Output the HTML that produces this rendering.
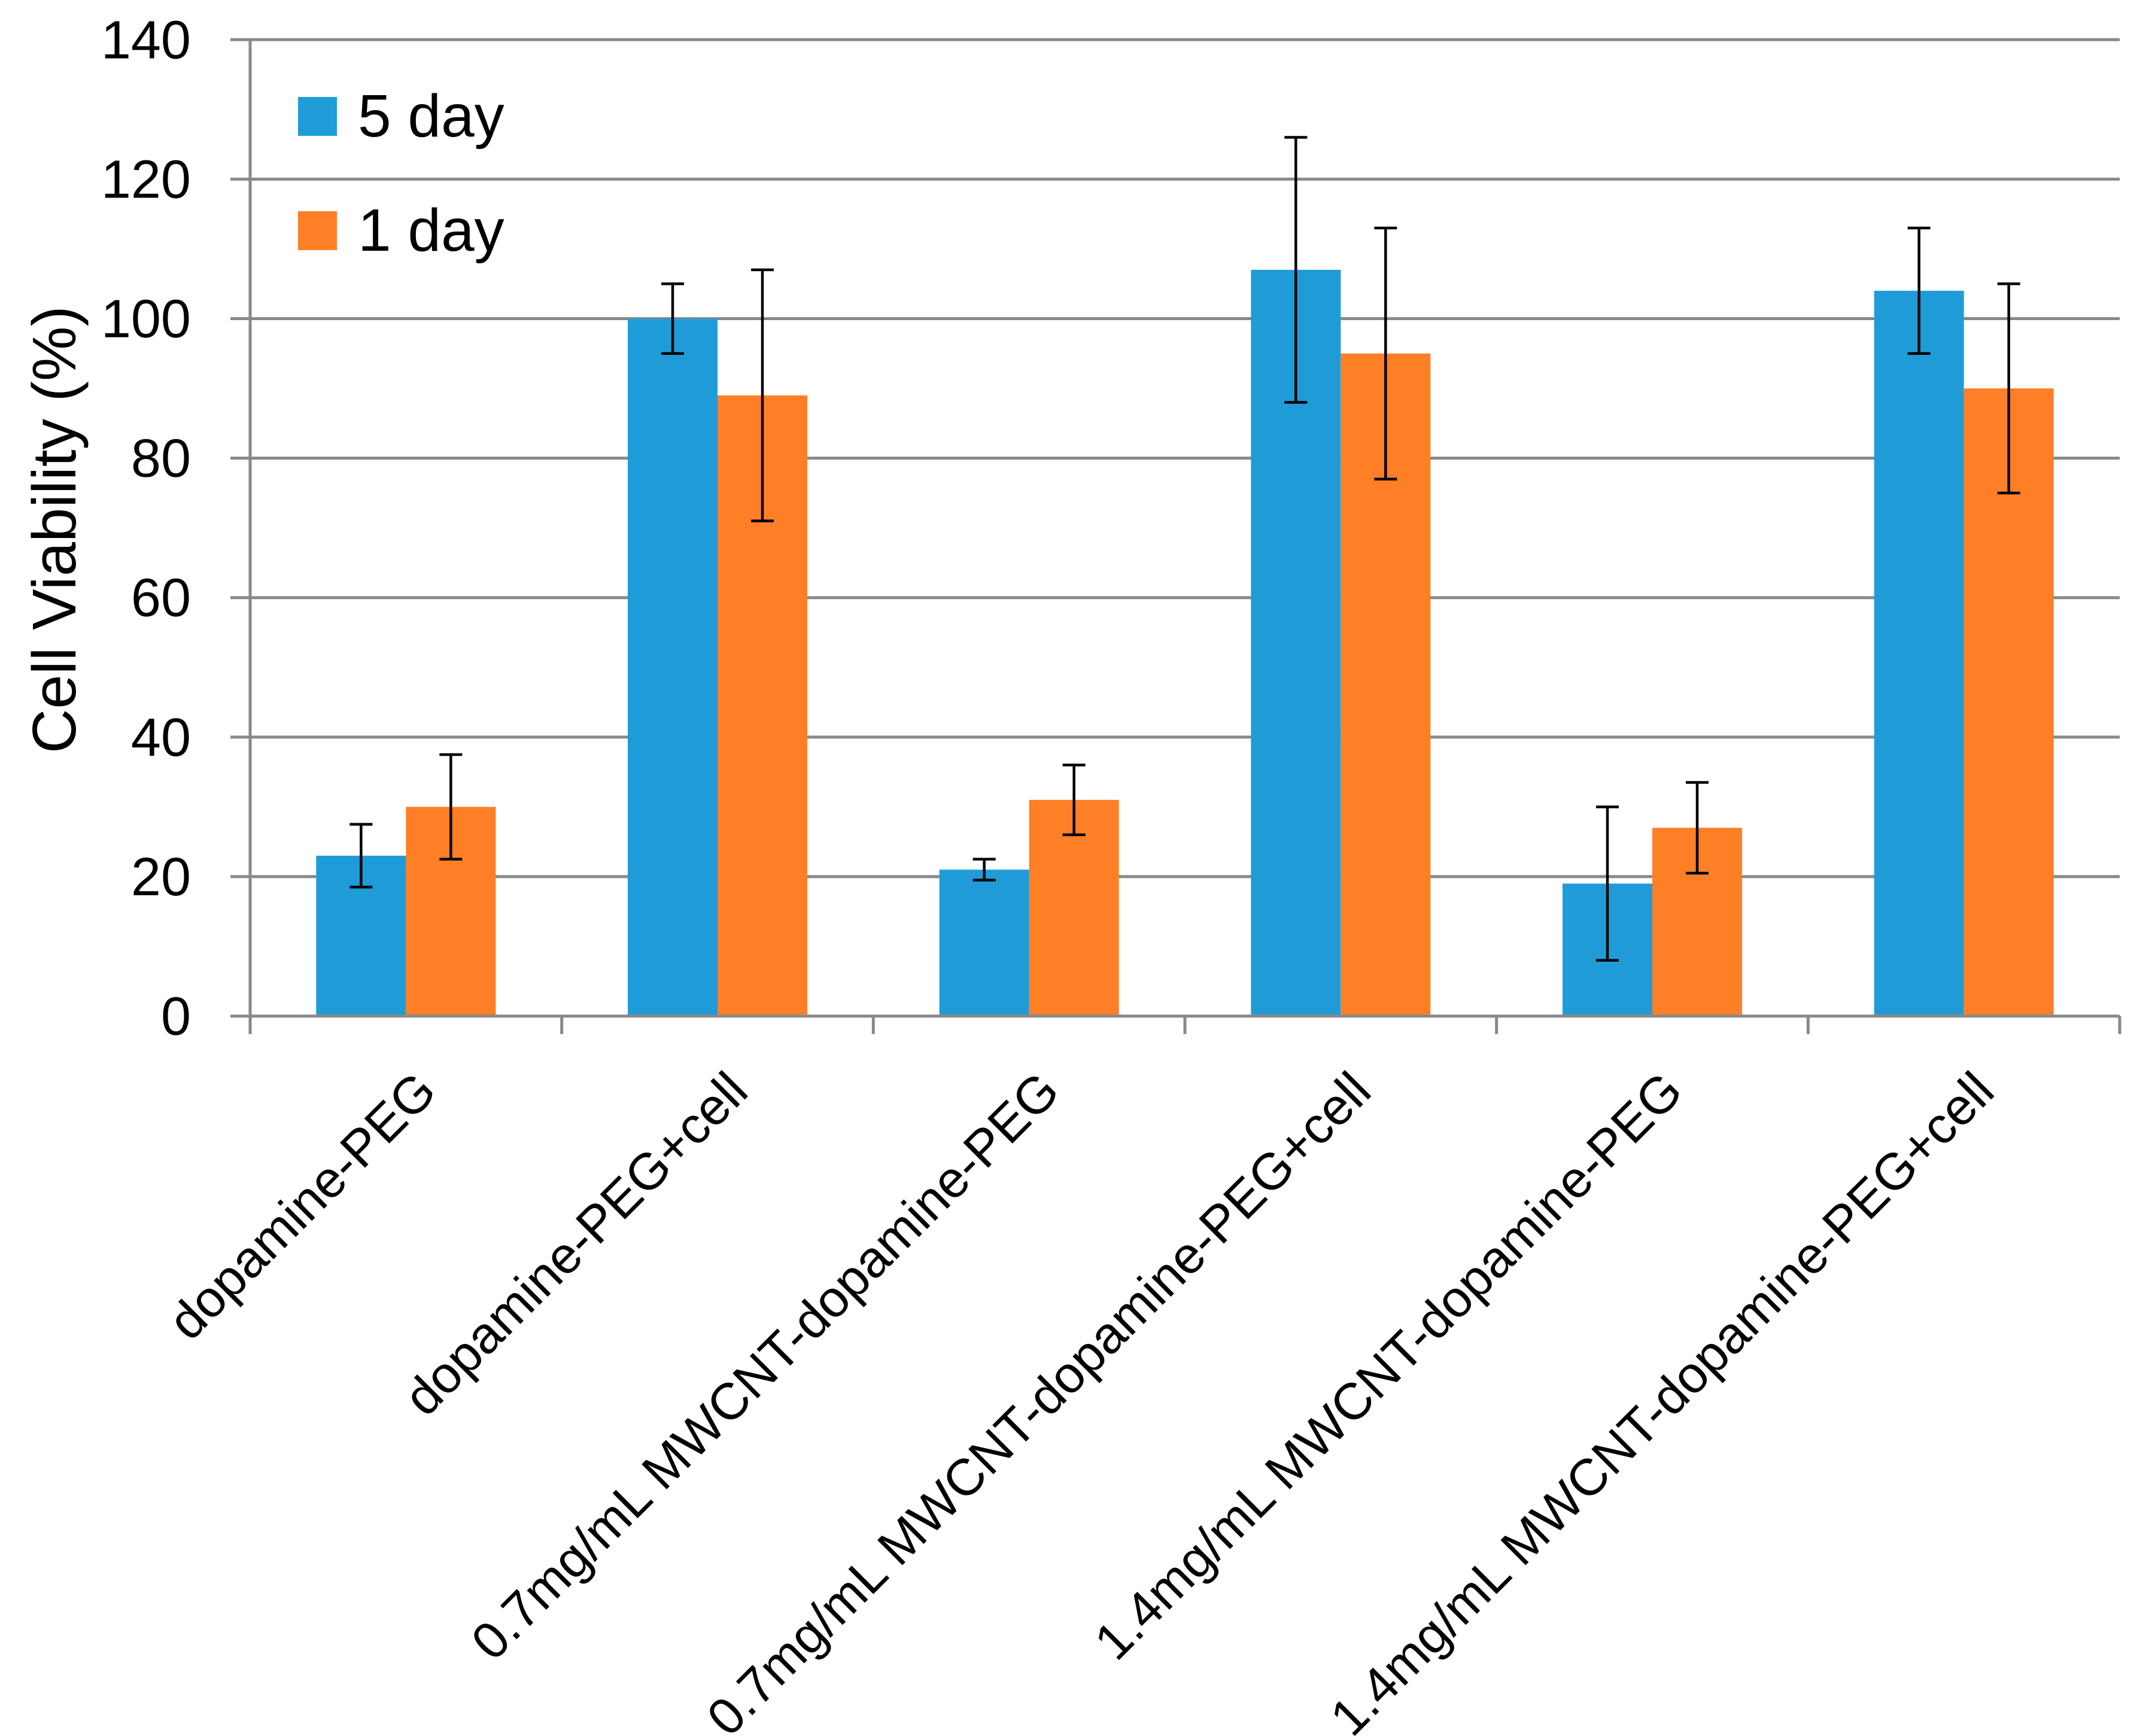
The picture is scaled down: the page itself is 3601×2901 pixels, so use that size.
<!DOCTYPE html>
<html><head><meta charset="utf-8"><style>
html,body{margin:0;padding:0;background:#fff;}
svg{display:block;font-family:"Liberation Sans",sans-serif;}
</style></head><body>
<svg id="chart" width="3601" height="2901" viewBox="0 0 3601 2901" xmlns="http://www.w3.org/2000/svg">
<g id="grid"></g>
<g id="bars"></g>
<g id="errs"></g>
<g id="axes"></g>
<g id="labels"></g>
<text transform="translate(126,885) rotate(-90)" text-anchor="middle" font-size="103" fill="#000">Cell Viability (%)</text>
<g>
  <rect x="498" y="162" width="65" height="65" fill="#1f9cd8"/>
  <text x="598" y="228" font-size="100" fill="#000">5 day</text>
  <rect x="498" y="353" width="65" height="65" fill="#ff7f27"/>
  <text x="598" y="419" font-size="100" fill="#000">1 day</text>
</g>
</svg>
<script>
const categories = ["dopamine-PEG","dopamine-PEG+cell","0.7mg/mL MWCNT-dopamine-PEG","0.7mg/mL MWCNT-dopamine-PEG+cell","1.4mg/mL MWCNT-dopamine-PEG","1.4mg/mL MWCNT-dopamine-PEG+cell"];
const day5 = [23,100,21,107,19,104];
const day5Err = [4.5,5,1.5,19,11,9];
const day1 = [30,89,31,95,27,90];
const day1Err = [7.5,18,5,18,6.5,15];
const yTicks = [0,20,40,60,80,100,120,140];

const NS="http://www.w3.org/2000/svg";
const X0=418, X1=3542, Y0=1698, PPU=233.1/20;
const groupW=(X1-X0)/categories.length, barW=150;
function yScale(v){return Y0-v*PPU;}
function xCenter(i){return X0+groupW*(i+0.5);}
function mk(tag,attrs,parent){const e=document.createElementNS(NS,tag);for(const k in attrs)e.setAttribute(k,attrs[k]);parent.appendChild(e);return e;}
const grid=document.getElementById('grid'),bars=document.getElementById('bars'),errs=document.getElementById('errs'),axes=document.getElementById('axes'),labels=document.getElementById('labels');

yTicks.forEach(t=>{
  const y=yScale(t);
  const l=mk('line',{x1:385,x2:X1,y1:y,y2:y,stroke:'#898989','stroke-width':5},grid);
  
  
  const tx=mk('text',{x:319,y:y+31,'text-anchor':'end','font-size':90,fill:'#000'},labels);
  tx.textContent=t;
  
  
});
const ya=mk('line',{x1:X0,x2:X0,y1:yScale(140),y2:1728,stroke:'#898989','stroke-width':5},axes);


for(let i=0;i<=categories.length;i++){
  const x=X0+groupW*i;
  const tk=mk('line',{x1:x,x2:x,y1:Y0,y2:1728,stroke:'#898989','stroke-width':5},axes);
  
  
}
function errBar(cx,v,e,name){
  const g=mk('g',{stroke:'#000','stroke-width':4.5},errs);
  
  
  mk('line',{x1:cx,x2:cx,y1:yScale(v+e),y2:yScale(v-e)},g);
  mk('line',{x1:cx-19,x2:cx+19,y1:yScale(v+e),y2:yScale(v+e)},g);
  mk('line',{x1:cx-19,x2:cx+19,y1:yScale(v-e),y2:yScale(v-e)},g);
}
categories.forEach((c,i)=>{
  const cx=xCenter(i);
  const b1=mk('rect',{x:cx-barW,y:yScale(day5[i]),width:barW,height:Y0-yScale(day5[i]),fill:'#1f9cd8'},bars);
  
  
  const b2=mk('rect',{x:cx,y:yScale(day1[i]),width:barW,height:Y0-yScale(day1[i]),fill:'#ff7f27'},bars);
  
  
  errBar(cx-barW/2,day5[i],day5Err[i],'error-bar-5-day-'+(i+1));
  errBar(cx+barW/2,day1[i],day1Err[i],'error-bar-1-day-'+(i+1));
  const t=mk('text',{transform:'translate('+(cx+55)+',1828) rotate(-45)','text-anchor':'end','font-size':86,fill:'#000'},labels);
  t.textContent=c;
  
  
});
const xa=mk('line',{x1:385,x2:X1,y1:Y0,y2:Y0,stroke:'#898989','stroke-width':5},axes);


</script>
</body></html>
